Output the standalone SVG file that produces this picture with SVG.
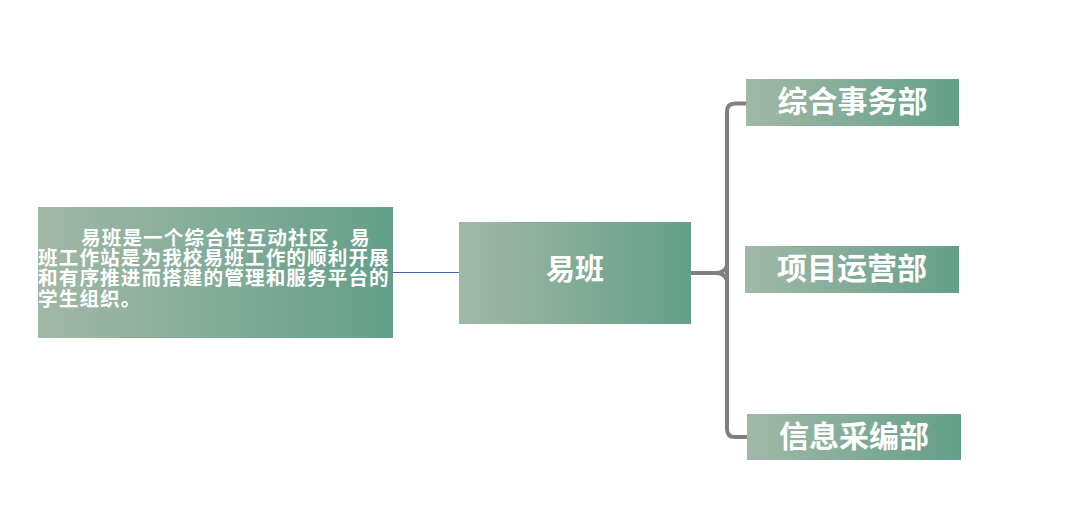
<svg xmlns="http://www.w3.org/2000/svg" width="1082" height="518" viewBox="0 0 1082 518">
<defs>
<linearGradient id="g" x1="0" y1="0" x2="1" y2="0">
<stop offset="0" stop-color="#a2b8a7"/>
<stop offset="1" stop-color="#63a089"/>
</linearGradient>
<style>
.box{fill:url(#g);}
.t{font-family:"Noto Sans CJK SC","Noto Sans",sans-serif;font-weight:bold;fill:#ffffff;}
.c{text-anchor:middle;}
.br{fill:none;stroke:#808080;stroke-width:4;stroke-linecap:butt;stroke-linejoin:round;}
</style>
</defs>
<rect width="1082" height="518" fill="#ffffff"/>
<g id="connectors">
<line x1="393" y1="272.5" x2="459" y2="272.5" stroke="#3f63ad" stroke-width="1"/>
<path class="br" d="M746 103.5 L735 103.5 Q727 103.5 727 111.5 L727 429 Q727 437 735 437 L747 437"/>
<path class="br" d="M691 273 L716 273 Q724 273 727 266 M716 273 Q724 273 727 280"/>
</g>
<g id="desc">
<rect class="box" x="38" y="207" width="355" height="131"/>
<text class="t" font-size="19.6" letter-spacing="1.1">
<tspan x="81" y="245">易班是一个综合性互动社区，易</tspan>
<tspan x="38" y="265">班工作站是为我校易班工作的顺利开展</tspan>
<tspan x="38" y="285">和有序推进而搭建的管理和服务平台的</tspan>
<tspan x="38" y="306">学生组织。</tspan>
</text>
</g>
<g id="center">
<rect class="box" x="459" y="222" width="232" height="102"/>
<text class="t c" x="575" y="280" font-size="29">易班</text>
</g>
<g id="dept1">
<rect class="box" x="746" y="79" width="213" height="47"/>
<text class="t c" x="852.5" y="112" font-size="30">综合事务部</text>
</g>
<g id="dept2">
<rect class="box" x="745" y="246" width="214" height="47"/>
<text class="t c" x="852" y="279" font-size="30">项目运营部</text>
</g>
<g id="dept3">
<rect class="box" x="747" y="414" width="214" height="46"/>
<text class="t c" x="854" y="447" font-size="30">信息采编部</text>
</g>
</svg>
